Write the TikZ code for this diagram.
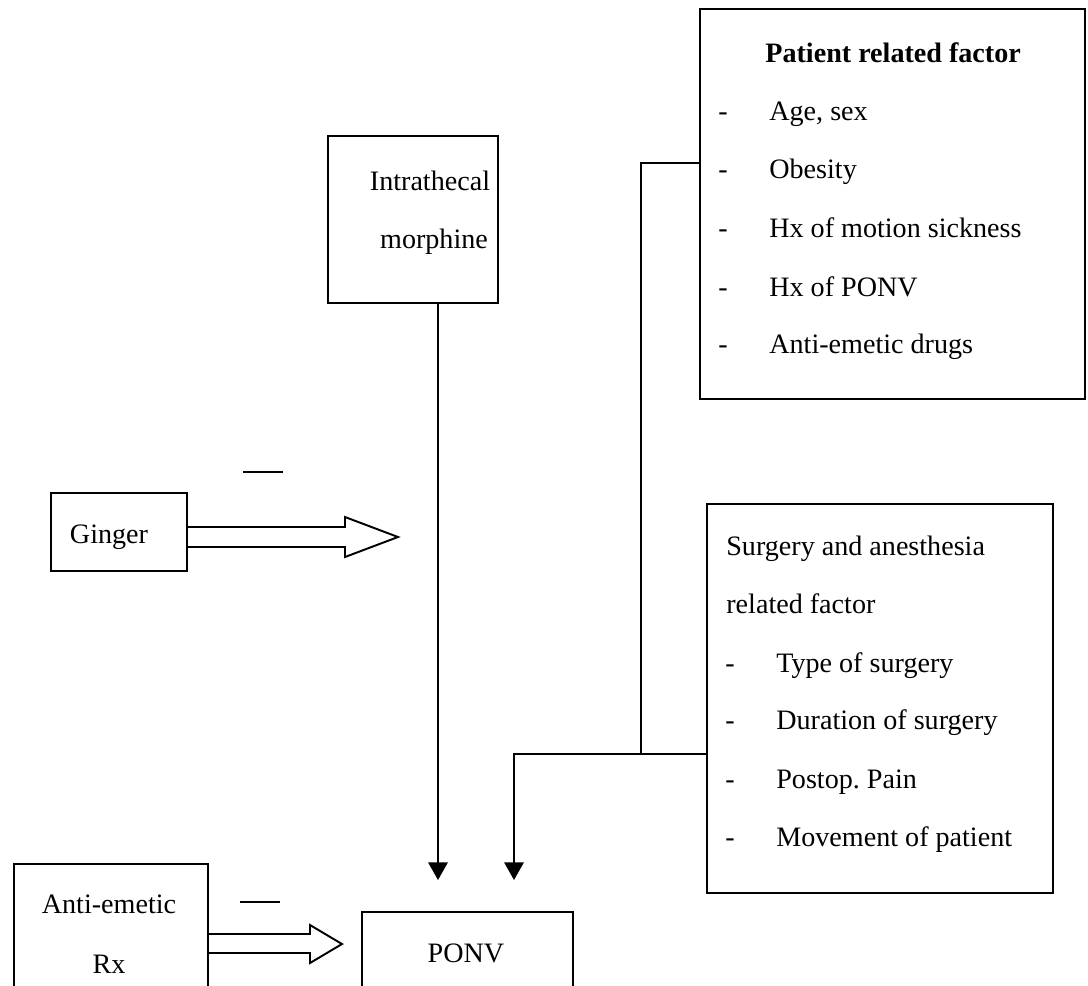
\documentclass[tikz,border=0pt]{standalone}
\usepackage{fontspec}
\setmainfont{Liberation Serif}
\usetikzlibrary{arrows.meta}
\frenchspacing
\begin{document}
\begin{tikzpicture}[x=0.02cm,y=-0.02cm,
  box/.style={draw=black, line width=1.1pt, inner sep=0pt, anchor=north west},
  txt/.style={inner sep=0pt, anchor=base, font=\fontsize{16}{19}\selectfont},
  ltxt/.style={txt, anchor=base west},
  conn/.style={draw=black, line width=1.1pt},
  arr/.style={conn, -{Triangle[length=10pt,width=11pt]}},
  blockarr/.style={draw=black, line width=1.1pt, line join=miter},
  minus/.style={draw=black, line width=1.3pt}
]
\useasboundingbox (0,0) rectangle (1088,985);
\clip (0,0) rectangle (1088,985);

% boxes
\node[box, minimum width=385*0.02cm, minimum height=390*0.02cm] (pat) at (699,8) {};
\node[box, minimum width=170*0.02cm, minimum height=167*0.02cm] (intra) at (327,135) {};
\node[box, minimum width=346*0.02cm, minimum height=389*0.02cm] (surg) at (706,503) {};
\node[box, minimum width=136*0.02cm, minimum height=78*0.02cm] (ginger) at (50,492) {};
\node[box, minimum width=194*0.02cm, minimum height=150*0.02cm] (anti) at (13,863) {};
\node[box, minimum width=211*0.02cm, minimum height=120*0.02cm] (ponv) at (361,911) {};

% patient box text
\node[ltxt, font=\fontsize{16}{19}\selectfont\bfseries] (pt0) at (765,62) {Patient related factor};
\foreach \i/\y/\t in {1/120/{Age, sex},2/178/{Obesity},3/237/{Hx of motion sickness},4/296/{Hx of PONV},5/353/{Anti-emetic drugs}}{
  \node[txt] (pd\i) at (723,\y) {-};
  \node[ltxt] (pt\i) at (769,\y) {\t};
}

% surgery box text
\node[ltxt] (st0) at (726,555) {Surgery and anesthesia};
\node[ltxt] (st00) at (726,613) {related factor};
\foreach \i/\y/\t in {1/672/{Type of surgery},2/729/{Duration of surgery},3/788/{Postop. Pain},4/846/{Movement of patient}}{
  \node[txt] (sd\i) at (730,\y) {-};
  \node[ltxt] (st\i) at (776,\y) {\t};
}

% other texts
\node[txt] (it1) at (430,190) {Intrathecal};
\node[txt] (it2) at (434,248) {morphine};
\node[txt] (gt) at (109,543) {Ginger};
\node[txt] (at1) at (109,913) {Anti-emetic};
\node[txt] (at2) at (109,973) {Rx};
\node[txt] (pn) at (466,962) {PONV};

% connectors
\coordinate (a1) at (438,880);
\coordinate (a2) at (514,880);
\coordinate (j1) at (641,163);
\coordinate (j2) at (641,754);
\draw[arr] (intra.south -| a1) -- (a1);
\draw[conn] (j1 -| pat.west) -- (j1) -- (j2);
\draw[arr] (j2 -| surg.west) -- (a2 |- j2) -- (a2);

% block arrows
\coordinate (gtip) at (398,537);
\coordinate (atip) at (342,944);
\draw[blockarr] (ginger.east |- 0,527) -- (345,527) -- (345,517) -- (gtip) -- (345,557) -- (345,547) -- (ginger.east |- 0,547);
\draw[blockarr] (anti.east |- 0,934) -- (310,934) -- (310,925) -- (atip) -- (310,963) -- (310,953) -- (anti.east |- 0,953);

% minus signs
\draw[minus] (243,472) -- (283,472);
\draw[minus] (240,902) -- (280,902);
\end{tikzpicture}
\end{document}
